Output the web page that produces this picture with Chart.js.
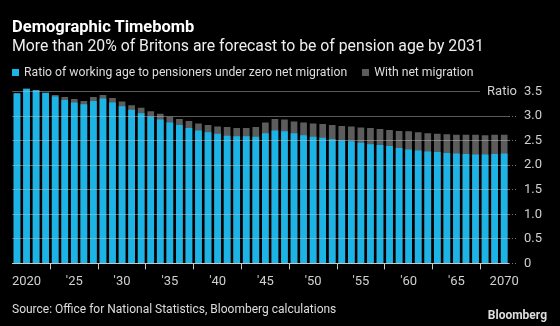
<!DOCTYPE html>
<html>
<head>
<meta charset="utf-8">
<script src="https://cdn.jsdelivr.net/npm/chart.js@4.4.0/dist/chart.umd.min.js"></script>
<style>
  html, body { margin: 0; padding: 0; background: #000; }
  #wrap { position: relative; width: 560px; height: 326px; overflow: hidden; background: #000; font-family: Roboto, "Noto Sans", sans-serif; color: #fff; }
  #chart { position: absolute; left: 0; top: 0; }
  .txt { position: absolute; white-space: nowrap; line-height: 1; }
  #title { left: 12px; top: 19px; font-size: 16.5px; font-weight: bold; }
  #subtitle { left: 12px; top: 38px; font-size: 15.8px; color: #eee; }
  #legend { left: 12px; top: 66px; font-size: 12.2px; color: #ddd; }
  #legend span.box { display: inline-block; width: 7px; height: 7px; margin-right: 5px; vertical-align: 0px; }
  #legend span.item { margin-right: 12px; }
  #source { left: 12px; top: 303px; font-size: 12px; color: #ddd; }
  #brand { right: 13px; top: 309px; font-size: 12px; font-weight: bold; color: #ddd; }
</style>
</head>
<body>
<div id="wrap">
  <canvas id="chart" width="560" height="326"></canvas>
  <div class="txt" id="title">Demographic Timebomb</div>
  <div class="txt" id="subtitle">More than 20% of Britons are forecast to be of pension age by 2031</div>
  <div class="txt" id="legend">
    <span class="item"><span class="box" style="background:#1cb4e6"></span>Ratio of working age to pensioners under zero net migration</span>
    <span class="item"><span class="box" style="background:#5c5c5c"></span>With net migration</span>
  </div>
  <div class="txt" id="source">Source: Office for National Statistics, Bloomberg calculations</div>
  <div class="txt" id="brand">Bloomberg</div>
</div>
<script>
const years = [2019, 2020, 2021, 2022, 2023, 2024, 2025, 2026, 2027, 2028,
    2029, 2030, 2031, 2032, 2033, 2034, 2035, 2036, 2037, 2038,
    2039, 2040, 2041, 2042, 2043, 2044, 2045, 2046, 2047, 2048,
    2049, 2050, 2051, 2052, 2053, 2054, 2055, 2056, 2057, 2058,
    2059, 2060, 2061, 2062, 2063, 2064, 2065, 2066, 2067, 2068,
    2069, 2070];

// ratio of working age to pensioners, zero net migration
const zeroMigration = [3.46, 3.56, 3.53, 3.47, 3.40, 3.33, 3.28, 3.24, 3.31, 3.36,
    3.28, 3.20, 3.13, 3.06, 2.99, 2.93, 2.87, 2.82, 2.76, 2.71,
    2.67, 2.64, 2.60, 2.59, 2.59, 2.58, 2.65, 2.71, 2.69, 2.65,
    2.61, 2.58, 2.56, 2.53, 2.51, 2.49, 2.46, 2.43, 2.41, 2.39,
    2.35, 2.32, 2.30, 2.28, 2.27, 2.25, 2.24, 2.23, 2.22, 2.22,
    2.23, 2.24];

// same ratio with net migration
const withMigration = [3.47, 3.56, 3.53, 3.48, 3.43, 3.39, 3.35, 3.31, 3.39, 3.43,
    3.37, 3.30, 3.22, 3.17, 3.10, 3.05, 2.99, 2.94, 2.90, 2.85,
    2.82, 2.79, 2.78, 2.76, 2.76, 2.78, 2.87, 2.94, 2.93, 2.89,
    2.87, 2.85, 2.84, 2.82, 2.80, 2.79, 2.77, 2.76, 2.74, 2.72,
    2.70, 2.69, 2.67, 2.65, 2.64, 2.63, 2.62, 2.62, 2.62, 2.61,
    2.62, 2.62];

const yTicks = [0, 0.5, 1.0, 1.5, 2.0, 2.5, 3.0, 3.5];

// "Ratio" unit label next to the top tick
const ratioLabel = {
    id: 'ratioLabel',
    afterDraw(chart) {
        const { ctx, chartArea, scales } = chart;
        const y = scales.y.getPixelForValue(3.5);
        ctx.save();
        ctx.fillStyle = '#000';
        ctx.fillRect(480, y - 6, chartArea.right + 12 - 480, 12);
        ctx.fillStyle = '#d0d0d0';
        ctx.font = '13px Roboto, "Noto Sans", sans-serif';
        ctx.textAlign = 'right';
        ctx.textBaseline = 'middle';
        ctx.fillText('Ratio', 517, y);
        ctx.restore();
    }
};

new Chart(document.getElementById('chart'), {
    type: 'bar',
    data: {
        labels: years,
        datasets: [{
            label: 'Ratio of working age to pensioners under zero net migration',
            data: zeroMigration,
            backgroundColor: '#1cb4e6',
            categoryPercentage: 1,
            barPercentage: 0.7
        }, {
            label: 'With net migration',
            data: withMigration,
            backgroundColor: '#5c5c5c',
            categoryPercentage: 1,
            barPercentage: 0.7
        }]
    },
    options: {
        responsive: false,
        animation: false,
        layout: {
            padding: { top: 86.7, left: 12.2, right: 12, bottom: 31 }
        },
        plugins: {
            legend: { display: false },
            tooltip: { enabled: false }
        },
        scales: {
            x: {
                stacked: true,
                border: { display: true, color: '#c8c8c8', width: 1 },
                grid: {
                    drawOnChartArea: false,
                    drawTicks: true,
                    tickLength: 6,
                    color: '#c8c8c8'
                },
                ticks: {
                    autoSkip: false,
                    maxRotation: 0,
                    padding: 5,
                    color: '#d0d0d0',
                    font: { family: 'Roboto, "Noto Sans", sans-serif', size: 13 },
                    callback: function (value, index) {
                        const yr = years[index];
                        if (yr % 5 !== 0) return null;
                        if (yr === 2020 || yr === 2070) return String(yr);
                        return "'" + String(yr).slice(2);
                    }
                }
            },
            y: {
                position: 'right',
                min: 0,
                max: 3.6,
                afterBuildTicks: (axis) => {
                    axis.ticks = yTicks.map(v => ({ value: v }));
                },
                border: { display: false },
                grid: {
                    z: 1,
                    color: 'rgba(200,200,200,0.45)',
                    lineWidth: 1,
                    borderDash: [1, 2],
                    tickLength: 9,
                    tickBorderDash: [1, 2],
                    tickColor: 'rgba(200,200,200,0.6)'
                },
                ticks: {
                    padding: 6,
                    color: '#d0d0d0',
                    font: { family: 'Roboto, "Noto Sans", sans-serif', size: 13 },
                    callback: (v) => v === 0 ? '0' : v.toFixed(1)
                }
            }
        }
    },
    plugins: [ratioLabel]
});
</script>
</body>
</html>
